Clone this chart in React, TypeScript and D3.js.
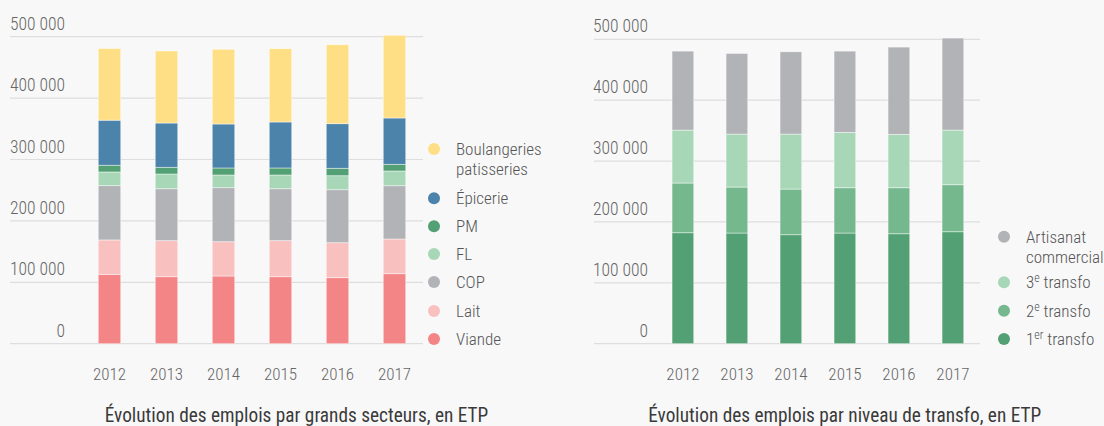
import React from 'react'
import * as d3 from 'd3'

const years = ['2012', '2013', '2014', '2015', '2016', '2017']
const yTicks = [0, 100000, 200000, 300000, 400000, 500000]

// emplois par grands secteurs (ETP)
const viande = [113000, 109100, 110300, 109100, 107500, 114000]
const lait = [56000, 58700, 55800, 58700, 57000, 56500]
const cop = [88400, 84600, 88000, 84600, 86300, 86800]
const fl = [22300, 24000, 20700, 22400, 22800, 24000]
const pm = [11000, 10900, 11400, 11400, 12100, 10900]
const epicerie = [73300, 72100, 71600, 74900, 72600, 75400]
const boulangeries = [116700, 117300, 121700, 119400, 128700, 134700]

// emplois par niveau de transfo (ETP)
const transfo1 = [182300, 181800, 179000, 181800, 180600, 183900]
const transfo2 = [81600, 75500, 75000, 74400, 75600, 77200]
const transfo3 = [87000, 87000, 90300, 90900, 87600, 89800]
const artisanat = [129700, 132500, 135200, 133500, 143400, 151100]

const FONT = '"Roboto Condensed", "Liberation Sans Narrow", "DejaVu Sans Condensed", sans-serif'
const fmt = (v: number) => d3.format(',')(v).replace(/,/g, ' ')

type Serie = { key: string, label: any[], color: string, values: number[] }

const secteurs: Serie[] = [
  { key: 'viande', label: ['Viande'], color: '#f48586', values: viande },
  { key: 'lait', label: ['Lait'], color: '#f9c0c0', values: lait },
  { key: 'cop', label: ['COP'], color: '#b2b3b7', values: cop },
  { key: 'fl', label: ['FL'], color: '#a8d7b7', values: fl },
  { key: 'pm', label: ['PM'], color: '#52a073', values: pm },
  { key: 'epicerie', label: ['Épicerie'], color: '#4b83aa', values: epicerie },
  { key: 'boul', label: ['Boulangeries', 'patisseries'], color: '#ffdf86', values: boulangeries },
]

const niveaux: Serie[] = [
  { key: 't1', label: [['1', 'er', ' transfo']], color: '#52a073', values: transfo1 },
  { key: 't2', label: [['2', 'e', ' transfo']], color: '#75b88e', values: transfo2 },
  { key: 't3', label: [['3', 'e', ' transfo']], color: '#a8d7b7', values: transfo3 },
  { key: 'art', label: ['Artisanat', 'commercial'], color: '#b2b3b7', values: artisanat },
]

type Layout = {
  gridX0: number, gridX1: number, labelX: number, top: number,
  band0: number, step: number, barW: number,
  legendX: number, legendY: number[], title: string, titleX: number,
}

function Chart({ series, L }: { series: Serie[], L: Layout }) {
  const zero = 343.7
  const y = d3.scaleLinear().domain([0, 500000]).range([zero, L.top])
  const pad = 1 - L.barW / L.step
  const x = d3.scaleBand<string>().domain(years)
    .range([L.band0, L.band0 + L.step * years.length])
    .paddingInner(pad).paddingOuter(pad / 2)
  const rows = years.map((yr, i) => {
    const r: any = { year: yr }
    series.forEach(s => { r[s.key] = s.values[i] })
    return r
  })
  const stacked = d3.stack().keys(series.map(s => s.key))(rows)

  return (
    <g fontFamily={FONT} fontWeight={300}>
      {yTicks.map(t => (
        <g key={t}>
          <line x1={L.gridX0} x2={L.gridX1} y1={y(t)} y2={y(t)} stroke="#dedede" strokeWidth={1.2} />
          <text x={L.labelX} y={y(t) - 7} textAnchor="end" fontSize={17.5} fill="#666">{fmt(t)}</text>
        </g>
      ))}
      {stacked.map((layer, li) => (
        <g key={layer.key} fill={series[li].color}>
          {layer.map((d, i) => (
            <rect key={i} x={x(years[i])} width={x.bandwidth()}
              y={y(d[1])} height={y(d[0]) - y(d[1])}
              stroke="#fff" strokeOpacity={0.55} strokeWidth={0.8} />
          ))}
        </g>
      ))}
      {years.map(yr => (
        <text key={yr} x={(x(yr) as number) + x.bandwidth() / 2} y={380} textAnchor="middle" fontSize={17} fill="#666">{yr}</text>
      ))}
      {series.slice().reverse().map((s, i) => (
        <g key={s.key}>
          <circle cx={L.legendX} cy={L.legendY[i]} r={6} fill={s.color} />
          {s.label.map((ln, j) => (
            <text key={j} x={L.legendX + 22} y={L.legendY[i] + 6 + j * 20} fontSize={17} fill="#555">
              {Array.isArray(ln)
                ? [<tspan key="a">{ln[0]}</tspan>,
                   <tspan key="b" fontSize={12} dy={-6}>{ln[1]}</tspan>,
                   <tspan key="c" dy={6}>{ln[2]}</tspan>]
                : ln}
            </text>
          ))}
        </g>
      ))}
      <text x={L.titleX} y={422} textAnchor="middle" fontSize={19.3} fontWeight={400} fill="#3a3a3a">{L.title}</text>
    </g>
  )
}

export default function App() {
  const left: Layout = {
    gridX0: 10, gridX1: 423, labelX: 65, top: 36.7,
    band0: 81, step: 57, barW: 22.5,
    legendX: 434, legendY: [149, 198.3, 226.3, 254, 282, 311, 339],
    title: 'Évolution des emplois par grands secteurs, en ETP', titleX: 296.5,
  }
  const right: Layout = {
    gridX0: 594, gridX1: 980, labelX: 648, top: 39.3,
    band0: 655.9, step: 54, barW: 21.7,
    legendX: 1004, legendY: [236.7, 282.3, 310.7, 339],
    title: 'Évolution des emplois par niveau de transfo, en ETP', titleX: 844.7,
  }
  return (
    <div>
      <style>{`body{margin:0;background:#f8f8f8}`}</style>
      <svg width={1104} height={426} style={{ display: 'block', background: '#f8f8f8' }}>
        <Chart series={secteurs} L={left} />
        <Chart series={niveaux} L={right} />
      </svg>
    </div>
  )
}
